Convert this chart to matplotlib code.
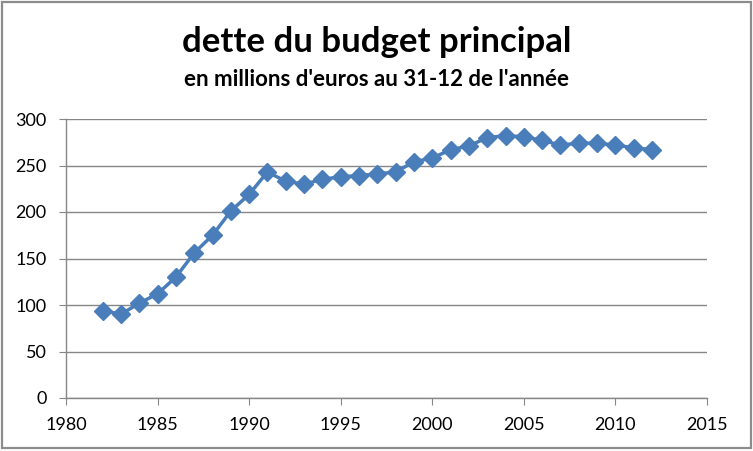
import matplotlib
matplotlib.use("Agg")
import matplotlib.pyplot as plt
from matplotlib.patches import Rectangle

years = list(range(1982, 2013))
debt = [94, 90, 102, 112, 130, 156, 175, 201, 219, 243, 233, 230, 235, 238, 239,
        241, 243, 254, 258, 267, 271, 280, 282, 281, 277, 272, 274, 274, 272, 269, 267]
x_ticks = [1980, 1985, 1990, 1995, 2000, 2005, 2010, 2015]
y_ticks = [0, 50, 100, 150, 200, 250, 300]

plt.rcParams['font.family'] = ['Lato', 'DejaVu Sans']

W, H = 753, 451
fig = plt.figure(figsize=(W/100, H/100), dpi=100)
fig.patch.set_facecolor('white')
border = Rectangle((2/W, 3/H), (W-4)/W, (H-5)/H, transform=fig.transFigure,
                   facecolor='none', edgecolor='#8c8c8c', lw=1.6)
fig.patches.append(border)

ax = fig.add_axes([66/W, 1-398/H, (707-66)/W, (398-119)/H])
ax.plot(years, debt, color='#4A7EBB', lw=2.5, marker='D', markersize=9.5,
        markeredgecolor='#4A7EBB', markerfacecolor='#4A7EBB')
ax.set_xlim(1980, 2015)
ax.set_ylim(0, 300)
ax.set_xticks(x_ticks)
ax.set_yticks(y_ticks)
ax.grid(axis='y', color='#868686', lw=1.0)
ax.set_axisbelow(True)
for s in ['top', 'right']:
    ax.spines[s].set_visible(False)
for s in ['left', 'bottom']:
    ax.spines[s].set_color('#868686')
    ax.spines[s].set_linewidth(1.0)
ax.tick_params(axis='both', direction='out', color='#868686', length=5, labelsize=13, labelcolor='black')
ax.tick_params(axis='y', pad=9)
ax.tick_params(axis='x', pad=9)

fig.text(0.5, 1-42/H, "dette du budget principal", ha='center', va='center',
         fontsize=25, fontweight='bold')
fig.text(0.5, 1-79/H, "en millions d'euros au 31-12 de l'année", ha='center', va='center',
         fontsize=16, fontweight='bold')

fig.savefig("out.png", dpi=100)
